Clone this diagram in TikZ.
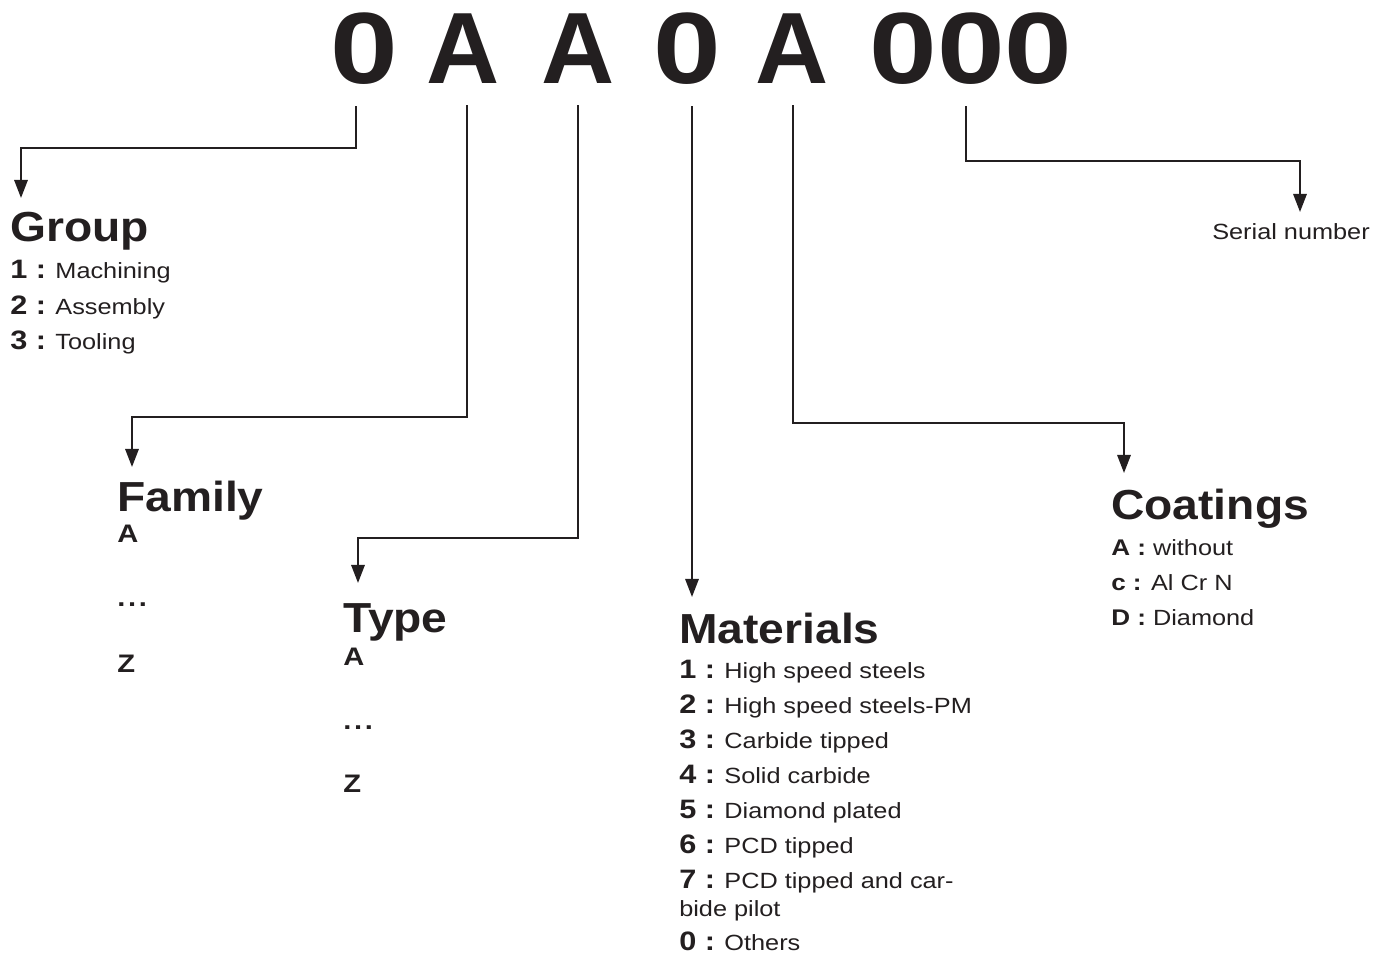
\documentclass[tikz,border=0pt]{standalone}
\usepackage{fontspec}
\setmainfont{Liberation Sans}
\newfontfamily\bodyfont[FakeStretch=1.15]{Liberation Sans}
\newfontfamily\headfont[FakeStretch=1.1]{Liberation Sans}
\newfontfamily\codefont{Liberation Sans}
\newfontfamily\digitfont[FakeStretch=1.2]{Liberation Sans}
\newcommand{\keyfont}{\bodyfont\bfseries\fontsize{20}{20}\selectfont}
\newcommand{\smallkeyfont}{\bodyfont\bfseries\fontsize{17}{17}\selectfont}
\newcommand{\gap}{.\kern2pt.\kern2pt.}
\usetikzlibrary{
    arrows.meta % For arrow tips
}
\definecolor{ink}{HTML}{231F20}

\begin{document}
\begin{tikzpicture}[
    x=0.75pt, y=-0.75pt, % one unit = one pixel of the sketch, y downwards
    >={Triangle[length=13.5pt,width=10pt]},
    link/.style={->, ink, line width=1.5pt, shorten <=15.75pt}, % connectors
    code/.style={anchor=base, inner sep=0pt, text=ink,
        font=\codefont\bfseries\fontsize{76}{76}\selectfont},
    digit/.style={code, font=\digitfont\bfseries\fontsize{76}{76}\selectfont},
    head/.style={anchor=base west, inner sep=0pt, text=ink,
        font=\headfont\bfseries\fontsize{31.5}{32}\selectfont},
    item/.style={anchor=base west, inner sep=0pt, text=ink,
        font=\bodyfont\fontsize{16.5}{18}\selectfont},
    letter/.style={anchor=base west, inner sep=0pt, text=ink,
        font=\bodyfont\bfseries\fontsize{19}{20}\selectfont}
]
    \useasboundingbox (0,0) rectangle (1390,955);

    % Code characters
    \node[digit] (d1) at (364,84) {0};
    \node[code]  (d2) at (463,84) {A};
    \node[code]  (d3) at (578,84) {A};
    \node[digit] (d4) at (687,84) {0};
    \node[code]  (d5) at (792,84) {A};
    \node[digit] (d6) at (971,84) {000};

    % Group
    \node[head] (grp) at (10,242) {Group};
    \foreach \k/\t [count=\i] in {1/Machining, 2/Assembly, 3/Tooling}
        \node[item] (grp-\i) at (10,{279+35.5*(\i-1)}) {{\keyfont\k~:} \t};

    % Family
    \node[head]   (fam)      at (117,512) {Family};
    \node[letter] (fam-a)    at (117,543) {A};
    \node[letter] (fam-dots) at (117,607) {\gap};
    \node[letter] (fam-z)    at (117,672) {Z};

    % Type
    \node[head]   (typ)      at (343,633) {Type};
    \node[letter] (typ-a)    at (343,665) {A};
    \node[letter] (typ-dots) at (343,729) {\gap};
    \node[letter] (typ-z)    at (343,792) {Z};

    % Materials
    \node[head] (mat) at (679,643) {Materials};
    \foreach \k/\t [count=\i] in {1/High speed steels, 2/High speed steels-PM,
            3/Carbide tipped, 4/Solid carbide, 5/Diamond plated, 6/PCD tipped}
        \node[item] (mat-\i) at (679,{678+35*(\i-1)}) {{\keyfont\k~:} \t};
    \node[item] (mat-7)  at (679,888) {{\keyfont 7~:} PCD tipped and car-};
    \node[item] (mat-7b) at (679,916) {bide pilot};
    \node[item] (mat-0)  at (679,950) {{\keyfont 0~:} Others};

    % Coatings
    \node[head] (coa) at (1111,520) {Coatings};
    \foreach \k/\t/\y [count=\i] in {A/without/556, c/Al Cr N/590, D/Diamond/625}
        \node[item] (coa-\i) at (1111,\y) {{\smallkeyfont\k~:} \t};

    % Serial number
    \node[item] (ser) at (1212,240) {Serial number};

    % Turning points and arrow tips
    \coordinate (grp-turn) at (356,148);  \coordinate (grp-tip) at (21,198);
    \coordinate (fam-turn) at (467,417);  \coordinate (fam-tip) at (132,467);
    \coordinate (typ-turn) at (578,538);  \coordinate (typ-tip) at (358,583);
    \coordinate (mat-tip)  at (692,597);
    \coordinate (coa-turn) at (793,423);  \coordinate (coa-tip) at (1124,473);
    \coordinate (ser-turn) at (966,161);  \coordinate (ser-tip) at (1300,212);

    % Connectors
    \draw[link] (d1.south -| grp-turn) -- (grp-turn) -| (grp-tip);
    \draw[link] (d2.south -| fam-turn) -- (fam-turn) -| (fam-tip);
    \draw[link] (d3.south -| typ-turn) -- (typ-turn) -| (typ-tip);
    \draw[link] (d4.south -| mat-tip) -- (mat-tip);
    \draw[link] (d5.south -| coa-turn) -- (coa-turn) -| (coa-tip);
    \draw[link] (d6.south -| ser-turn) -- (ser-turn) -| (ser-tip);

\end{tikzpicture}
\end{document}
